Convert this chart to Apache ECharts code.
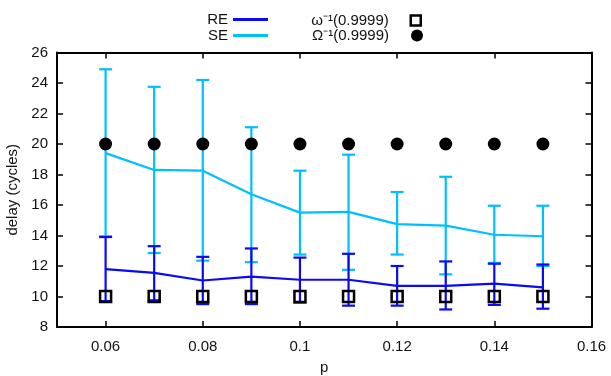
<!DOCTYPE html>
<html>
<head>
<meta charset="utf-8">
<script src="https://cdn.jsdelivr.net/npm/echarts@6/dist/echarts.min.js"></script>
<style>html,body{margin:0;padding:0;background:#fff}#c{width:611px;height:376px}</style>
</head>
<body>
<div id="c"></div>
<script>
// ---- data ----
const p       = [0.06, 0.07, 0.08, 0.09, 0.10, 0.11, 0.12, 0.13, 0.14, 0.15];
const re      = [11.8, 11.55, 11.05, 11.3, 11.1, 11.1, 10.7, 10.7, 10.85, 10.6];
const reLow   = [9.7, 9.75, 9.5, 9.5, 9.6, 9.4, 9.4, 9.15, 9.45, 9.2];
const reHigh  = [13.9, 13.3, 12.6, 13.15, 12.55, 12.8, 12.0, 12.3, 12.15, 12.1];
const se      = [19.4, 18.3, 18.25, 16.7, 15.5, 15.55, 14.75, 14.65, 14.05, 13.95];
const seLow   = [13.95, 12.85, 12.35, 12.25, 12.75, 11.75, 12.75, 11.45, 12.2, 12.0];
const seHigh  = [24.9, 23.75, 24.2, 21.1, 18.25, 19.3, 16.85, 17.85, 15.95, 15.95];
const omegaLo = [10, 10, 10, 10, 10, 10, 10, 10, 10, 10];
const omegaUp = [20, 20, 20, 20, 20, 20, 20, 20, 20, 20];
const xTicks  = [0.06, 0.08, 0.10, 0.12, 0.14, 0.16];
const yMin = 8, yMax = 26, yStep = 2;

const RE_COLOR = '#0a0af5';
const SE_COLOR = '#00bfff';
const FONT = 'Liberation Sans';

function pairs(xs, ys) { return xs.map((x, i) => [x, ys[i]]); }
function triples(xs, lo, hi) { return xs.map((x, i) => [x, lo[i], hi[i]]); }

function errRender(color) {
  return function (params, api) {
    const x = api.value(0);
    const a = api.coord([x, api.value(1)]);
    const b = api.coord([x, api.value(2)]);
    const hw = 6.5;
    const st = { stroke: color, lineWidth: 2.2 };
    return {
      type: 'group',
      children: [
        { type: 'line', shape: { x1: a[0], y1: a[1], x2: b[0], y2: b[1] }, style: st },
        { type: 'line', shape: { x1: a[0] - hw, y1: a[1], x2: a[0] + hw, y2: a[1] }, style: st },
        { type: 'line', shape: { x1: b[0] - hw, y1: b[1], x2: b[0] + hw, y2: b[1] }, style: st }
      ]
    };
  };
}

const axisLine = { show: true, lineStyle: { color: '#000', width: 2 } };
const tick = { show: true, inside: true, length: 6, lineStyle: { color: '#000', width: 1.5 } };
const txt = { fontFamily: FONT, fontSize: 15, color: '#111' };

function legendItem(item, right, top, w, h, extraText) {
  return {
    data: [item], right: right, top: top, align: 'right', orient: 'vertical',
    itemWidth: w, itemHeight: h, padding: 0, selectedMode: false, symbolKeepAspect: false,
    textStyle: Object.assign({}, txt, extraText || {})
  };
}

const chart = echarts.init(document.getElementById('c'), null, { renderer: 'canvas' });
chart.setOption({
  animation: false,
  backgroundColor: '#fff',
  grid: { left: 57, right: 19.5, top: 52.5, bottom: 49, containLabel: false, outerBoundsMode: 'none' },
  legend: [
    legendItem({ name: 'RE', icon: 'rect', itemStyle: { color: RE_COLOR } }, 343, 12, 35, 3),
    legendItem({ name: 'SE', icon: 'rect', itemStyle: { color: SE_COLOR } }, 343, 28, 35, 3),
    legendItem({ name: 'ω⁻¹(0.9999)', icon: 'rect',
                 itemStyle: { color: 'rgba(0,0,0,0)', borderColor: '#000', borderWidth: 2.5 } },
               189, 13, 10, 10, { padding: [0, 17, 0, 0] }),
    legendItem({ name: 'Ω⁻¹(0.9999)', icon: 'circle', itemStyle: { color: '#000', opacity: 1 } },
               188, 28, 12, 12, { padding: [0, 17, 0, 0] })
  ],
  xAxis: [
    {
      type: 'value', min: 0.05, max: 0.16, position: 'bottom',
      name: 'p', nameLocation: 'middle', nameGap: 33,
      nameTextStyle: txt,
      axisLine: axisLine,
      axisTick: Object.assign({ customValues: xTicks }, tick),
      axisLabel: Object.assign({ customValues: xTicks, margin: 12,
                   formatter: v => String(+v.toFixed(2)) }, txt),
      splitLine: { show: false }
    },
    {
      type: 'value', min: 0.05, max: 0.16, position: 'top',
      axisLine: axisLine,
      axisTick: Object.assign({ customValues: xTicks }, tick),
      axisLabel: { show: false },
      splitLine: { show: false }
    }
  ],
  yAxis: [
    {
      type: 'value', min: yMin, max: yMax, interval: yStep, position: 'left',
      name: 'delay (cycles)', nameLocation: 'middle', nameGap: 33,
      nameTextStyle: txt,
      axisLine: axisLine, axisTick: tick,
      axisLabel: Object.assign({ margin: 9 }, txt),
      splitLine: { show: false }
    },
    {
      type: 'value', min: yMin, max: yMax, interval: yStep, position: 'right',
      axisLine: axisLine, axisTick: tick, axisLabel: { show: false },
      splitLine: { show: false }
    }
  ],
  series: [
    { name: 'SE err', type: 'custom', renderItem: errRender(SE_COLOR),
      data: triples(p, seLow, seHigh), z: 2, encode: { x: 0, y: [1, 2] } },
    { name: 'RE err', type: 'custom', renderItem: errRender(RE_COLOR),
      data: triples(p, reLow, reHigh), z: 3, encode: { x: 0, y: [1, 2] } },
    { name: 'SE', type: 'line', data: pairs(p, se), symbol: 'none', z: 4,
      lineStyle: { color: SE_COLOR, width: 2.2 }, itemStyle: { color: SE_COLOR } },
    { name: 'RE', type: 'line', data: pairs(p, re), symbol: 'none', z: 5,
      lineStyle: { color: RE_COLOR, width: 2.2 }, itemStyle: { color: RE_COLOR } },
    { name: 'ω⁻¹(0.9999)', type: 'scatter', data: pairs(p, omegaLo), symbol: 'rect', symbolSize: 11, z: 6,
      itemStyle: { color: 'rgba(0,0,0,0)', borderColor: '#000', borderWidth: 2.5, opacity: 1 } },
    { name: 'Ω⁻¹(0.9999)', type: 'scatter', data: pairs(p, omegaUp), symbol: 'circle', symbolSize: 13, z: 6,
      itemStyle: { color: '#000', opacity: 1 } }
  ]
});
</script>
</body>
</html>
